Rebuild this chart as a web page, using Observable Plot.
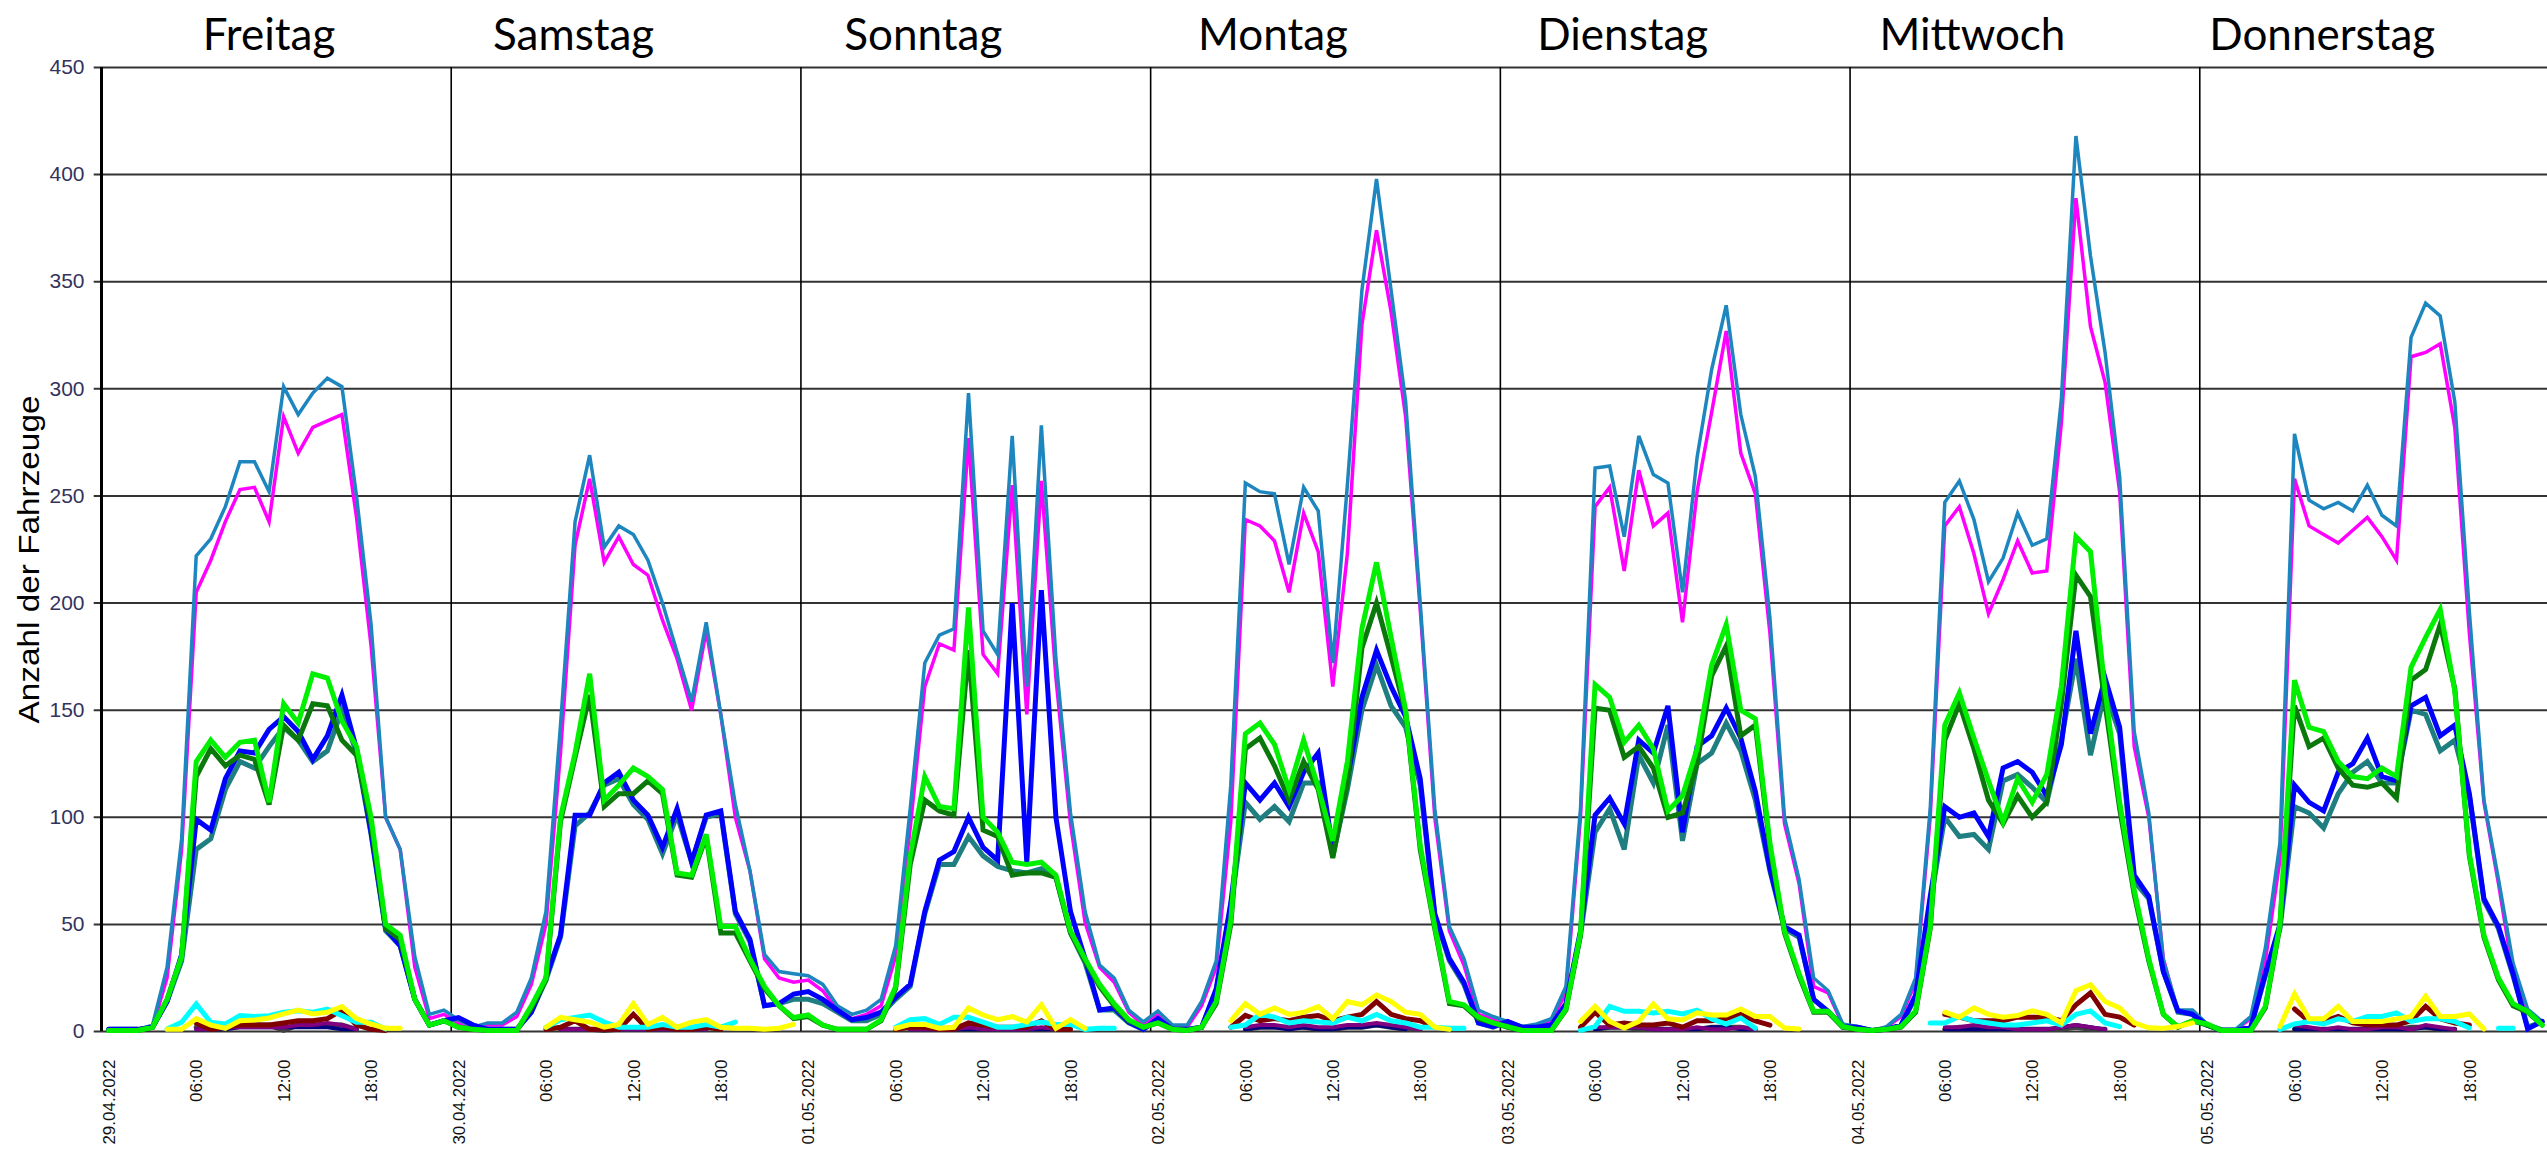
<!DOCTYPE html>
<html>
<head>
<meta charset="utf-8">
<script src="https://cdn.jsdelivr.net/npm/d3@7"></script>
<script src="https://cdn.jsdelivr.net/npm/@observablehq/plot@0.6"></script>
<style>
  html, body { margin: 0; padding: 0; background: #fff; }
  #chart svg { display: block; }
</style>
</head>
<body>
<div id="chart"></div>
<script>
// ---- Data ----
const days = ["Freitag", "Samstag", "Sonntag", "Montag", "Dienstag", "Mittwoch", "Donnerstag"];
const dateLabels = ["29.04.2022", "30.04.2022", "01.05.2022", "02.05.2022", "03.05.2022", "04.05.2022", "05.05.2022"];
const timeLabels = ["06:00", "12:00", "18:00"];
const yTicks = [0, 50, 100, 150, 200, 250, 300, 350, 400, 450];
const yLabel = "Anzahl der Fahrzeuge";

// hourly values, 24 per day, Freitag .. Donnerstag
const lightBlue = [
  1,1,1,3,30,90,222,230,245,266,266,252,301,288,298,305,301,250,190,100,85,35,8,10,
  5.5,2,4,4,9,25,56,143,238,269,226,236,232,220,200,177,154,191,148,106,75,36,28,27,
  26,22,12,8,10,15,40,104,172,185,188,298,187,176,278,161,283,174,102,56,31,25,10,4.5,
  9.6,3,3,14,33,115,256,252,251,218,254,243,172,255,346,398,346,294,200,104,49,34,10,7,
  4.7,2.3,3.5,6,21,104,263,264,231,278,260,256,205,268,309,339,288,259,193,100,71,25,19,3.5,
  2.3,0.5,2.3,8,25,104,247,257,239,210,221,242,227,230,295,418,362,317,259,140,102,33,10,10,
  3.5,1.2,1.2,7,39,88,279,248,244,247,243,255,241,236,324,340,334,294,196,108,71,32,10.5,4.7
];
const magenta = [
  0.5,0.5,0.5,2,25,85,205,220,238,253,254,238,287,270,282,285,288,240,180,100,85,30,6,8,
  4,1.5,3,3,7,22,50,130,227,258,219,231,218,213,192,174,150,187,148,100,75,34,25,23,
  24,19,10,6,8,12,35,95,161,181,178,277,176,167,255,148,257,165,97,51,30,23,9,3,
  8,2,2,12,30,98,239,236,229,205,242,224,161,223,330,374,336,287,197,100,47,31,8,6,
  4,2,3,5,18,100,245,254,215,262,236,242,191,252,289,327,270,251,186,97,69,21,18,3,
  2,0.5,2,7,23,100,236,245,223,195,211,229,214,215,284,389,329,303,252,133,100,34,9,9,
  3,1,1,6,33,80,258,236,232,228,234,240,231,220,315,317,321,282,186,107,69,27,9,4
];
const green = [
  0.5,0.5,0.5,2,15,35,126,136,128,135,136,107,153,144,167,165,145,133,100,50,45,15,3,5,
  2,1,0.5,0.5,0.5,12,25,100,130,167,108,115,123,119,113,74,73,92,49,49,34,21,12,6.5,
  7.7,3,1,1,1,5.5,21,82,119,105,104,198,100,93,79,78,79,73,47,34,22,13,5.5,2,
  4,1,0.5,2,14,52,139,144,134,113,136,114,89,126,188,219,184,150,87,49,14,12.5,6.7,4,
  2.3,0.5,0.5,0.5,10.5,46,162,156,135,143,132,103,110,132,171,190,150,146,88,47,27,9.4,9.4,2.3,
  1,0.5,1,2.3,9.6,49,143,158,137,117,98,118,107,120,161,231,224,159,107,66,34,8,2.3,5,
  3.5,0.5,0.5,0.5,11.7,50,164,142,140,126,119,118,123,119,170,184,197,159,83,45,25,13,9.4,3
];
const darkGreen = [
  0.5,0.5,0.5,2,15,35,119,132,124,129,127,106,143,136,153,152,136,129,97,48,43,15,3,5,
  2,1,0.5,0.5,0.5,11,24,98,128,157,105,111,111,117,111,73,72,91,46,46,33,20,12,6,
  7,3,1,1,1,5,20,78,108,103,101,178,94,91,73,74,74,72,46,33,21,12,5,2,
  4,1,0.5,2,13,50,132,137,124,108,126,113,81,116,179,200,175,149,85,48,13,12,6,4,
  2,0.5,0.5,0.5,10,45,151,150,128,133,123,100,102,125,166,180,138,143,86,46,26,9,9,2,
  1,0.5,1,2,9,48,136,153,132,108,97,110,100,107,153,213,203,153,104,64,33,8,2,5,
  3,0.5,0.5,0.5,11,49,152,133,137,123,115,114,116,109,164,169,190,160,82,44,24,12,9,3
];
const blue = [
  1,1,1,2,14,36,99,94,118,131,130,141,147,140,127,138,157,132,93,48,40,15,3,5,
  6.5,3,1,1,1,9,25,45,101,101,116,121,108,101,86,104,79,101,103,56,43,12,13,17.5,
  18.6,15,10,5.5,6.5,9,16,22,56,80,84,100,86,80,200,79,206,100,56,34,10,11,4.4,1,
  6,1,1,2,20,60,116,108,116,105,121,130,85,118,156,178,161,147,118,55,34,23,4,2.3,
  4.7,2,2,3,13,47,101,109,97,136,130,152,93,133,138,151,137,112,76,49,45,15,9.4,2.3,
  2,0.5,1,3,17,63,105,100,102,91,123,126,121,110,134,187,139,165,142,73,63,28,9.6,8,
  3,0.5,0.5,2,27,50,115,107,103,121,125,137,119,117,152,156,138,143,111,62,49,27,1.2,4.7
];
const teal = [
  1,1,1,2,14,33,85,90,113,126,123,133,142,136,126,131,150,130,92,47,40,15,3,5,
  6,3,1,1,1,9,24,44,96,102,115,118,106,99,83,101,79,100,102,55,42,12,13,15,
  15,13,9,5,5,8,15,21,55,78,78,91,82,77,75,74,76,72,46,32,10,10,4,1,
  6,1,1,2,19,58,107,99,105,98,116,116,82,113,150,171,152,142,115,54,33,22,4,2,
  4.5,2,2,3,12,45,93,104,85,129,116,143,89,125,130,144,131,108,75,48,44,15,9,2,
  2,0.5,1,3,16,60,100,91,92,85,117,120,114,107,136,174,129,159,139,70,62,28,9,8,
  3,0.5,0.5,2,26,48,105,102,95,111,121,126,116,116,150,148,131,136,110,61,48,26,2,4.5
];
const _ = null;
const yellow = [
  _,_,_,_,1,1,6,3,1.5,5,5.4,6.3,8.2,10,8.2,9,11.6,6,3.5,1.5,1.5,_,_,_,
  _,_,_,_,_,_,2,6.6,5.5,4.4,2,3.3,13,3.3,6.6,2,4.4,5.5,2,1.5,1.5,1,1.5,3.3,
  _,_,_,_,_,_,1.5,3.3,3.3,1.5,2,11,7.7,5.5,7,4.4,12.5,1.5,5.5,1.5,_,_,_,_,
  _,_,_,_,_,5,13,8,11,8,9,11.6,6,14,12.5,17,14,9,8,2,1,_,_,_,
  _,_,_,_,_,4.7,11.7,4.7,1.6,4.7,12.9,5.9,5.4,8.7,7.7,7.7,10.5,7,7,1.6,1.2,_,_,_,
  _,_,_,_,_,_,9,6.7,11,8,6.7,7.5,9.6,8,4,19,21.8,14,11,4,1.7,1.5,2.3,4,
  _,_,_,_,_,2.3,17.5,5.9,5.9,11.7,4.7,4.7,4.7,5.9,7,16.4,7,7,8.2,1.2,_,_,_,_
];
const cyan = [
  _,_,_,_,1.2,4.3,12.8,4.3,3.5,7.4,7,7.4,9,9.7,9,10.5,7.4,4.3,4.3,1.2,_,_,_,_,
  _,_,_,_,_,_,2,5.5,6.6,7.7,4.4,2,2,2,3.3,2,2,3.3,2,4.4,_,_,_,_,
  _,_,_,_,_,_,2,5.5,6,3.3,6.6,6.6,4.4,2,2,3.3,4.4,3.3,3.3,1,1.5,1.5,_,_,
  _,_,_,_,_,2,3,8,6.7,4,5,4.4,4,6.7,5,8,5,4,2,2,1.5,1.5,_,_,
  _,_,_,_,_,0.5,2.3,11.7,9.4,9.4,8.7,9.4,8.2,10,5.9,3.5,6.3,1.6,_,_,_,_,_,_,
  _,_,_,_,_,4,4,7,5,4,3,3,4,5,3,8,9.6,4,2.3,_,_,_,_,_,
  _,_,_,_,_,1,3.5,4.7,3.5,5.9,4.7,7,7,8.7,4.7,5.9,5.9,4.7,1.6,_,1.5,1.5,_,_
];
const darkRed = [
  _,_,_,_,_,_,4,1,2,3,3,3,4,5,5,6,10,3,1,0.5,_,_,_,_,
  _,_,_,_,_,_,1,2,5,1,1,1,8,1,2,1,1,2,1,_,_,_,_,_,
  _,_,_,_,_,_,1,2,2,1,1,4,3,2,2,2,5,1,1,_,_,_,_,_,
  _,_,_,_,_,2,7.5,5,6,5,6.7,7.5,5,6.7,8,14,8,6,5,2,_,_,_,_,
  _,_,_,_,_,2,9,3,4,3,3,4,2,5,5,6,8,5,3,_,_,_,_,_,
  _,_,_,_,_,_,8,6.7,5,5,5,6.7,6.7,6.7,5,12.5,18,8,6.7,3,_,_,_,_,
  _,_,_,_,_,_,10.5,4.7,4.7,7,4,3,3,3,5,11.7,6,4,3,_,_,_,_,_
];
const darkGray = [
  _,_,_,_,_,_,2,1,3,3,3,3,0.5,3,3,3,3,1,_,_,_,_,_,_,
  _,_,_,_,_,_,_,1,1,1,0.5,1,1,1,1,1,1,1,_,_,_,_,_,_,
  _,_,_,_,_,_,_,1,1,1,2,3,2,1,1,1,1,1,_,_,_,_,_,_,
  _,_,_,_,_,_,1,2,2,2,2,1,1,2,2,3,2,1,1,_,_,_,_,_,
  _,_,_,_,_,_,1,2,2,1,1,1,1,1,2,2,2,1,_,_,_,_,_,_,
  _,_,_,_,_,_,1,2,2,1,1,1,1,1,1,2,1,1,_,_,_,_,_,_,
  _,_,_,_,_,_,1,1,1,1,1,1,1,1,2,2,1,1,_,_,_,_,_,_
];
const purple = [
  _,_,_,_,_,_,1,1,2,2,2,2,2,3,3,4,3,1,_,_,_,_,_,_,
  _,_,_,_,_,_,_,1,1,1,1,1,1,1,1,1,1,1,_,_,_,_,_,_,
  _,_,_,_,_,_,_,1,1,1,1,2,1,1,1,1,2,1,_,_,_,_,_,_,
  _,_,_,_,_,_,2,3,3,2,3,2,2,3,3,4,3,2,1,_,_,_,_,_,
  _,_,_,_,_,_,2,2,2,2,1,1,1,2,1,1,2,1,_,_,_,_,_,_,
  _,_,_,_,_,_,2,2,3,2,2,1,1,1,2,3,2,1,_,_,_,_,_,_,
  _,_,_,_,_,_,3,2,1,2,1,1,2,2,1,3,2,1,_,_,_,_,_,_
];
const navy = [
  _,_,_,_,_,_,1,1,1,2,2,2,2,2,2,2,1,1,_,_,_,_,_,_,
  _,_,_,_,_,_,_,1,1,1,1,1,1,1,1,1,1,1,_,_,_,_,_,_,
  _,_,_,_,_,_,_,1,1,1,1,1,1,1,1,1,1,1,_,_,_,_,_,_,
  _,_,_,_,_,_,1,2,2,1,2,1,1,2,2,3,2,1,_,_,_,_,_,_,
  _,_,_,_,_,_,1,2,2,2,1,1,1,1,2,2,1,1,_,_,_,_,_,_,
  _,_,_,_,_,_,1,1,1,1,1,1,1,1,2,3,2,1,_,_,_,_,_,_,
  _,_,_,_,_,_,1,1,1,1,1,1,1,1,1,2,1,1,_,_,_,_,_,_
];

// ---- Styles (drawing order: first drawn is underneath) ----
const seriesStyles = [
  {values: magenta,   stroke: "#ff00ff", width: 3.5},
  {values: lightBlue, stroke: "#1e86bf", width: 3.5},
  {values: teal,      stroke: "#1f7f80", width: 5},
  {values: blue,      stroke: "#0000ff", width: 5},
  {values: darkGreen, stroke: "#0a780a", width: 5},
  {values: green,     stroke: "#00f000", width: 5},
  {values: darkGray,  stroke: "#404040", width: 5},
  {values: navy,      stroke: "#000080", width: 4},
  {values: purple,    stroke: "#800080", width: 4},
  {values: darkRed,   stroke: "#800000", width: 5},
  {values: cyan,      stroke: "#00ffff", width: 5},
  {values: yellow,    stroke: "#ffff00", width: 5}
];

const hoursPerDay = 24;
const dayStarts = days.map((d, i) => i * hoursPerDay);
const xTicks = d3.range(0, days.length * hoursPerDay, 6);
const xTickText = (h) => (h % hoursPerDay === 0 ? dateLabels[h / hoursPerDay] : timeLabels[(h % hoursPerDay) / 6 - 1]);
// titles sit a little left of each day's centre (the first one nearly centred)
const titleX = (d, i) => dayStarts[i] + hoursPerDay / 2 - (i === 0 ? 0.5 : 3.6);

const rowsOf = (vals) => vals.map((v, i) => ({t: i + 0.5, v}));

const W = 2547, H = 1162;
const sans = "Liberation Sans, Arial, sans-serif";
const chart = Plot.plot({
  width: W,
  height: H,
  marginLeft: 0, marginRight: 0, marginTop: 0, marginBottom: 0,
  style: {background: "#fff", overflow: "visible"},
  x: {domain: [0, days.length * hoursPerDay], range: [101, 2549], axis: null},
  y: {domain: [0, 450], range: [1031, 67], axis: null},
  marks: [
    // horizontal gridlines + small ticks left of the axis
    Plot.ruleY(yTicks, {y: d => d, x1: -0.5, x2: days.length * hoursPerDay, stroke: "#333", strokeWidth: 2}),
    // day separators
    Plot.ruleX(dayStarts.slice(1), {x: d => d, y1: 0, y2: 450, stroke: "#000", strokeWidth: 1.6}),
    // left axis line
    Plot.ruleX([0], {x: d => d, y1: 0, y2: 450, stroke: "#000", strokeWidth: 3}),
    // y tick labels
    Plot.text(yTicks, {x: 0, y: d => d, text: d => String(d), textAnchor: "end", dx: -17,
      fontSize: 21, fontFamily: sans, fill: "#33335c"}),
    // y label
    Plot.text([yLabel], {x: 0, y: 225, rotate: -90, text: d => d, textAnchor: "middle", dx: -72, dy: 10,
      fontSize: 30, fontFamily: sans, fill: "#000"}),
    // x tick labels (rotated)
    Plot.text(xTicks, {x: d => d, y: 0, text: xTickText, rotate: -90, textAnchor: "end", dy: 28, dx: 8,
      fontSize: 17, fontFamily: sans, fill: "#111"}),
    // day titles
    Plot.text(days, {x: titleX, y: 450, text: d => d, dy: -32,
      fontSize: 44, fontFamily: "Lato, 'Open Sans', sans-serif", fill: "#000"}),
    // data lines
    ...seriesStyles.map(s => Plot.line(rowsOf(s.values), {
      x: "t", y: "v", stroke: s.stroke, strokeWidth: s.width, strokeLinejoin: "miter", strokeMiterlimit: 4
    }))
  ]
});
// the axis title is drawn stretched along its length in the reference
d3.select(chart).selectAll("text")
  .filter(function () { return this.textContent === yLabel; })
  .attr("textLength", 328).attr("lengthAdjust", "spacingAndGlyphs");
document.getElementById("chart").appendChild(chart);
</script>
</body>
</html>
